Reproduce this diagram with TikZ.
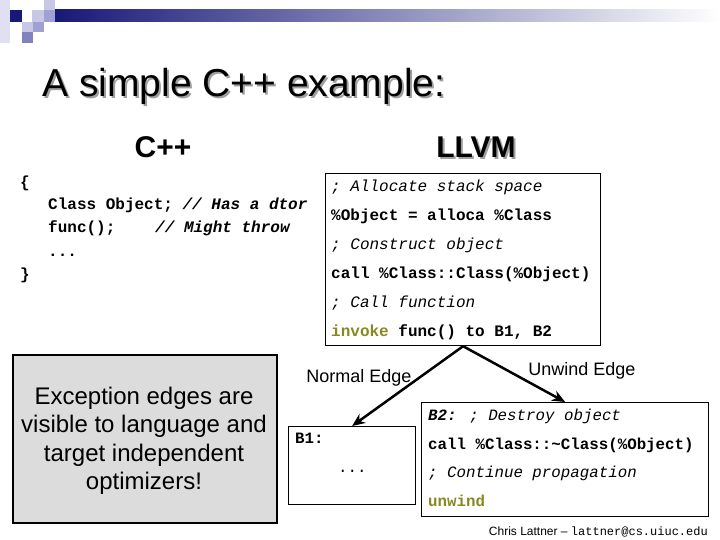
\documentclass[tikz,border=0pt]{standalone}
\usepackage{fontspec}
\setmainfont{Liberation Sans}
\newfontfamily\codefont{Liberation Mono}
\usetikzlibrary{arrows.meta}
\definecolor{navybar}{RGB}{24,24,120}
\definecolor{barmid}{RGB}{150,150,180}
\definecolor{lavA}{RGB}{224,224,242}
\definecolor{lavB}{RGB}{200,200,230}
\definecolor{lavC}{RGB}{160,160,210}
\definecolor{lavD}{RGB}{130,130,190}
\definecolor{llolive}{RGB}{136,136,32}
\definecolor{notegray}{RGB}{220,220,220}
\definecolor{shadowgray}{RGB}{160,160,160}
\begin{document}
\begin{tikzpicture}[x=1pt,y=-1pt,
  code/.style={anchor=base west, inner sep=0pt, font=\codefont\fontsize{16}{19}\selectfont},
  codeB/.style={anchor=base west, inner sep=0pt, font=\codefont\fontsize{15.8}{19}\selectfont},
  blk/.style={draw, line width=1.2pt, anchor=north west, inner sep=0pt},
  flow/.style={line width=2.5pt, -{Stealth[length=13pt,width=11pt]}},
  lbl/.style={anchor=base, inner sep=0pt, font=\fontsize{18}{21}\selectfont},
  hdr/.style={anchor=base, inner sep=0pt, font=\bfseries\fontsize{30}{36}\selectfont},
  ttl/.style={anchor=base west, inner sep=0pt, font=\fontsize{39}{45}\selectfont}]
\useasboundingbox (0,0) rectangle (720,540);
% decoration
\fill[lavA] (0,0) rectangle (10,43);
\fill[lavB] (22,22) rectangle (33,32);
\fill[lavC] (33,22) rectangle (44,32);
\fill[lavD] (22,32) rectangle (33,43);
\fill[lavB] (32,10) rectangle (44,22);
\fill[lavB] (44,0) rectangle (55,10);
\shade[left color=navybar, middle color=barmid, right color=white] (55,10) rectangle (720,22);
\fill[lavC] (44,10) rectangle (55,22);
\fill[navybar] (10,10) rectangle (22,22);
% title
\node[ttl, text=shadowgray] at (44,99) {A simple C++ example:};
\node[ttl] (title) at (42,97) {A simple C++ example:};
% headers
\node[hdr] (cpp) at (163,158) {C++};
\node[hdr, text=shadowgray] at (478,160) {LLVM};
\node[hdr] (llvmh) at (476,158) {LLVM};
% C++ code
\node[code] (c1) at (20,188) {\bfseries\{};
\node[code] (c2) at (48,210) {\bfseries Class Object; {\itshape // Has a dtor}};
\node[code] (c3) at (48,233) {\bfseries func();};
\node[code] (c3c) at (155,233) {\bfseries\itshape // Might throw};
\node[code] (c4) at (48,256) {\bfseries ...};
\node[code] (c5) at (20,279) {\bfseries\}};
% LLVM box
\node[blk, minimum width=275pt, minimum height=172pt] (llvm) at (325,173) {};
\node[code] (l1) at (331,192) {\itshape ; Allocate stack space};
\node[code] (l2) at (331,221) {\bfseries \%Object = alloca \%Class};
\node[code] (l3) at (331,249) {\itshape ; Construct object};
\node[code] (l4) at (331,278) {\bfseries call \%Class::Class(\%Object)};
\node[code] (l5) at (331,307) {\itshape ; Call function};
\node[code] (l6) at (331,336) {\bfseries{\color{llolive}invoke} func() to B1, B2};
% B1 box
\node[blk, minimum width=127pt, minimum height=78pt] (b1) at (288,426) {};
\node[codeB] (b1a) at (295,443) {\bfseries B1:};
\node[codeB] (b1b) at (338,472) {...};
% B2 box
\node[blk, minimum width=287pt, minimum height=114pt] (b2) at (421,402) {};
\node[codeB] (b2a) at (428,420) {{\bfseries\itshape B2:} {\itshape ; Destroy object}};
\node[codeB] (b2b) at (428,449) {\bfseries call \%Class::\textasciitilde Class(\%Object)};
\node[codeB] (b2c) at (428,477) {\itshape ; Continue propagation};
\node[codeB] (b2d) at (428,506) {\bfseries\color{llolive}unwind};
% edges
\draw[flow] (llvm.south) -- (b1.north);
\draw[flow] (llvm.south) -- (b2.north);
\node[lbl] (nl) at (359,382) {Normal Edge};
\node[lbl] (ul) at (582,375) {Unwind Edge};
% note box
\node[draw, line width=2pt, fill=notegray, minimum width=264pt, minimum height=168pt,
      anchor=north west] (note) at (12,354) {};
\node[align=center, inner sep=0pt, font=\fontsize{24}{28.5}\selectfont] (notetext) at (144,441)
  {Exception edges are\\visible to language and\\target independent\\optimizers!};
% footer
\node[anchor=base east, inner sep=0pt, font=\fontsize{12}{14}\selectfont] (foot) at (708,535)
  {Chris Lattner – {\codefont lattner@cs.uiuc.edu}};
\end{tikzpicture}
\end{document}
